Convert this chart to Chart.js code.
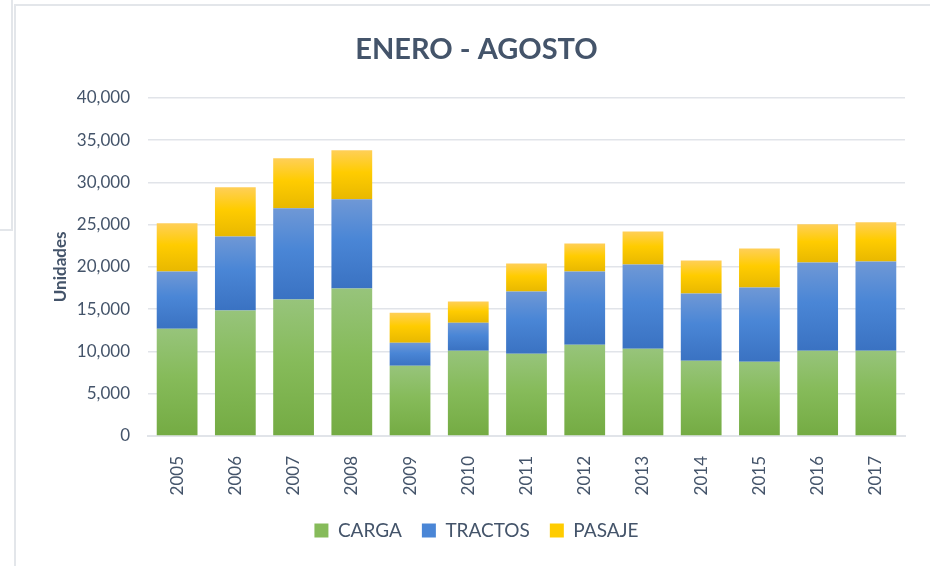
<!DOCTYPE html>
<html>
<head>
<meta charset="utf-8">
<script src="https://cdn.jsdelivr.net/npm/chart.js@4/dist/chart.umd.min.js"></script>
<style>
  body { margin: 0; background: #fff; }
  #wrap { position: relative; width: 930px; height: 566px; overflow: hidden; }
  .ln { position: absolute; background: #e3e6ea; }
  canvas { position: absolute; left: 0; top: 0; }
</style>
</head>
<body>
<div id="wrap">
  <div class="ln" style="left:11px;top:0;width:2px;height:231px"></div>
  <div class="ln" style="left:0;top:229px;width:13px;height:2px"></div>
  <div class="ln" style="left:14px;top:4px;width:2px;height:562px"></div>
  <div class="ln" style="left:14px;top:4px;width:916px;height:2px"></div>
  <canvas id="chart" width="930" height="566"></canvas>
</div>
<script>
const years = ["2005","2006","2007","2008","2009","2010","2011","2012","2013","2014","2015","2016","2017"];
const carga   = [12690, 14830, 16130, 17440, 8300, 10080, 9730, 10800, 10320, 8900, 8780, 10080, 10080];
const tractos = [6760, 8770, 10800, 10560, 2730, 3320, 7350, 8650, 9960, 7940, 8780, 10440, 10560];
const pasaje  = [5700, 5820, 5930, 5810, 3560, 2500, 3320, 3330, 3920, 3920, 4620, 4510, 4630];

const textColor = "#44546a";
const gridColor = "#e1e4e9";

// light top -> strong middle -> darker bottom, like the office style gradient
const palettes = [
  ["#97c47b", "#86bb5a", "#74ab43"],
  ["#6f98d6", "#4a86d6", "#3a72c2"],
  ["#ffcf58", "#ffcc00", "#e8b800"]
];
const series = [carga, tractos, pasaje];

function barFill(idx) {
  return (ctx) => {
    const chart = ctx.chart;
    const p = palettes[idx];
    if (!chart.chartArea || ctx.dataIndex === undefined) return p[1];
    const y = chart.scales.y;
    let start = 0;
    for (let i = 0; i < idx; i++) start += series[i][ctx.dataIndex];
    const end = start + series[idx][ctx.dataIndex];
    const g = chart.ctx.createLinearGradient(0, y.getPixelForValue(end), 0, y.getPixelForValue(start));
    g.addColorStop(0, p[0]);
    g.addColorStop(0.45, p[1]);
    g.addColorStop(1, p[2]);
    return g;
  };
}

new Chart(document.getElementById("chart"), {
  type: "bar",
  data: {
    labels: years,
    datasets: [
      { label: "CARGA", data: carga, backgroundColor: barFill(0) },
      { label: "TRACTOS", data: tractos, backgroundColor: barFill(1) },
      { label: "PASAJE", data: pasaje, backgroundColor: barFill(2) }
    ]
  },
  options: {
    responsive: false,
    animation: false,
    layout: { padding: { left: 48, right: 25, top: 0, bottom: 16 } },
    datasets: { bar: { categoryPercentage: 0.7, barPercentage: 1 } },
    plugins: {
      title: {
        display: true,
        text: "ENERO - AGOSTO",
        color: textColor,
        font: { family: "Lato", size: 29, weight: "bold" },
        padding: { top: 32, bottom: 31 }
      },
      legend: {
        position: "bottom",
        labels: {
          color: textColor,
          font: { family: "Lato", size: 19 },
          boxWidth: 14,
          boxHeight: 14,
          padding: 20,
          generateLabels: (chart) => chart.data.datasets.map((d, i) => ({
            text: d.label,
            fillStyle: palettes[i][1],
            strokeStyle: palettes[i][1],
            lineWidth: 0,
            fontColor: textColor,
            datasetIndex: i
          }))
        }
      },
      tooltip: { enabled: false }
    },
    scales: {
      x: {
        stacked: true,
        grid: { display: false },
        border: { color: gridColor, width: 2 },
        ticks: {
          color: textColor,
          font: { family: "Lato", size: 17 },
          minRotation: 90,
          maxRotation: 90,
          padding: 12
        },
        afterFit: (s) => { s.height = 65; }
      },
      y: {
        stacked: true,
        min: 0,
        max: 40000,
        grid: { color: gridColor, lineWidth: 1.5, drawTicks: false },
        border: { display: false },
        ticks: {
          stepSize: 5000,
          color: textColor,
          font: { family: "Lato", size: 17 },
          padding: 18,
          callback: (v) => v.toLocaleString("en-US")
        },
        title: {
          display: true,
          text: "Unidades",
          color: textColor,
          font: { family: "Lato", size: 17, weight: "bold" },
          padding: 2
        },
        afterFit: (s) => { s.width = 100; }
      }
    }
  }
});
</script>
</body>
</html>
